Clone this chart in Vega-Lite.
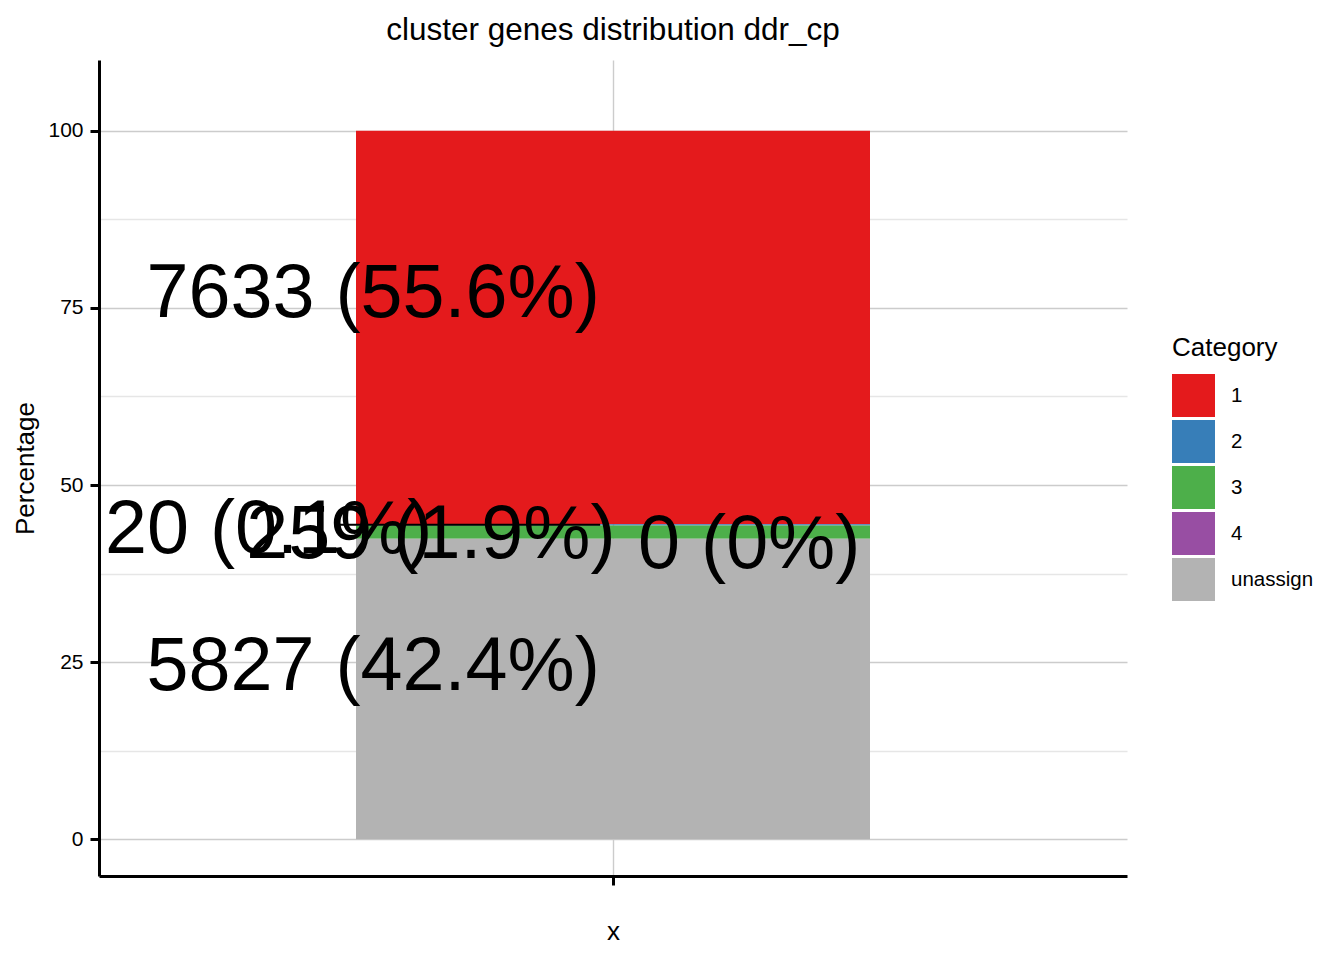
{
  "$schema": "https://vega.github.io/schema/vega-lite/v6.json",
  "width": 1028,
  "height": 816,
  "autosize": {"type": "none"},
  "padding": {"left": 99, "top": 60, "right": 217, "bottom": 84},
  "background": "white",
  "title": {"text": "cluster genes distribution ddr_cp", "font": "Liberation Sans", "fontSize": 31.5, "fontWeight": "normal", "color": "black", "anchor": "middle", "frame": "group", "offset": 14},
  "config": {"view": {"stroke": null}, "font": "Liberation Sans"},
  "data": {"values": [
    {"Category": "1", "count": 7633, "pct": 55.557, "label": "7633 (55.6%)", "label_x": 0.72, "label_y": 73.7},
    {"Category": "2", "count": 20, "pct": 0.1456, "label": "20 (0.1%)", "label_x": 0.598, "label_y": 40.4, "seg_x": 0.681, "seg_x2": 0.985, "seg_y": 44.4},
    {"Category": "3", "count": 259, "pct": 1.8851, "label": "259 (1.9%)", "label_x": 0.7875, "label_y": 39.7},
    {"Category": "4", "count": 0, "pct": 0, "label": "0 (0%)", "label_x": 1.159, "label_y": 38.3},
    {"Category": "unassign", "count": 5827, "pct": 42.412, "label": "5827 (42.4%)", "label_x": 0.72, "label_y": 21.0}
  ]},
  "layer": [
    {
      "transform": [{"stack": "pct", "groupby": [], "sort": [{"field": "Category", "order": "descending"}], "as": ["y0", "y1"]}],
      "mark": {"type": "bar", "strokeWidth": 0},
      "encoding": {
        "x": {"datum": 0.7, "type": "quantitative", "scale": {"domain": [0.4, 1.6], "nice": false, "zero": false},
          "axis": {"title": "x", "values": [1], "labels": false, "grid": true, "gridColor": "#CCCCCC", "gridWidth": 1.4, "tickColor": "black", "tickWidth": 3, "tickSize": 9, "domainColor": "black", "domainWidth": 3, "titleFont": "Liberation Sans", "titleFontSize": 26, "titleFontWeight": "normal", "titleColor": "black", "titlePadding": 32}},
        "x2": {"datum": 1.3},
        "y": {"field": "y0", "type": "quantitative", "scale": {"domain": [-5.2, 110], "nice": false, "zero": false},
          "axis": {"title": "Percentage", "values": [0, 12.5, 25, 37.5, 50, 62.5, 75, 87.5, 100], "labelExpr": "datum.value % 25 === 0 ? datum.label : ''", "grid": true, "gridColor": {"condition": {"test": "datum.value % 25 === 0", "value": "#CCCCCC"}, "value": "#E6E6E6"}, "gridWidth": 1.4, "tickOpacity": {"condition": {"test": "datum.value % 25 === 0", "value": 1}, "value": 0}, "tickColor": "black", "tickWidth": 3, "tickSize": 9, "domainColor": "black", "domainWidth": 3, "labelFont": "Liberation Sans", "labelFontSize": 21, "labelColor": "black", "labelPadding": 7, "titleFont": "Liberation Sans", "titleFontSize": 26, "titleFontWeight": "normal", "titleColor": "black", "titlePadding": 9}},
        "y2": {"field": "y1"},
        "color": {"field": "Category", "type": "nominal",
          "scale": {"domain": ["1", "2", "3", "4", "unassign"], "range": ["#E41A1C", "#377EB8", "#4DAF4A", "#984EA3", "#B3B3B3"]},
          "legend": {"orient": "none", "legendX": 1073, "legendY": 275, "title": "Category", "titleFont": "Liberation Sans", "titleFontSize": 26, "titleFontWeight": "normal", "titleColor": "black", "titlePadding": 13, "symbolType": "square", "symbolSize": 1849, "symbolStrokeWidth": 0, "symbolOpacity": 1, "labelFont": "Liberation Sans", "labelFontSize": 20.5, "labelColor": "black", "labelOffset": 16, "rowPadding": 3, "padding": 0}}
      }
    },
    {
      "transform": [{"filter": "isValid(datum.seg_x)"}],
      "mark": {"type": "rule", "color": "black", "strokeWidth": 2},
      "encoding": {
        "x": {"field": "seg_x", "type": "quantitative"},
        "x2": {"field": "seg_x2"},
        "y": {"field": "seg_y", "type": "quantitative"}
      }
    },
    {
      "mark": {"type": "text", "font": "Liberation Sans", "fontSize": 75.5, "align": "center", "baseline": "alphabetic", "color": "black"},
      "encoding": {
        "x": {"field": "label_x", "type": "quantitative"},
        "y": {"field": "label_y", "type": "quantitative"},
        "text": {"field": "label"}
      }
    }
  ]
}
